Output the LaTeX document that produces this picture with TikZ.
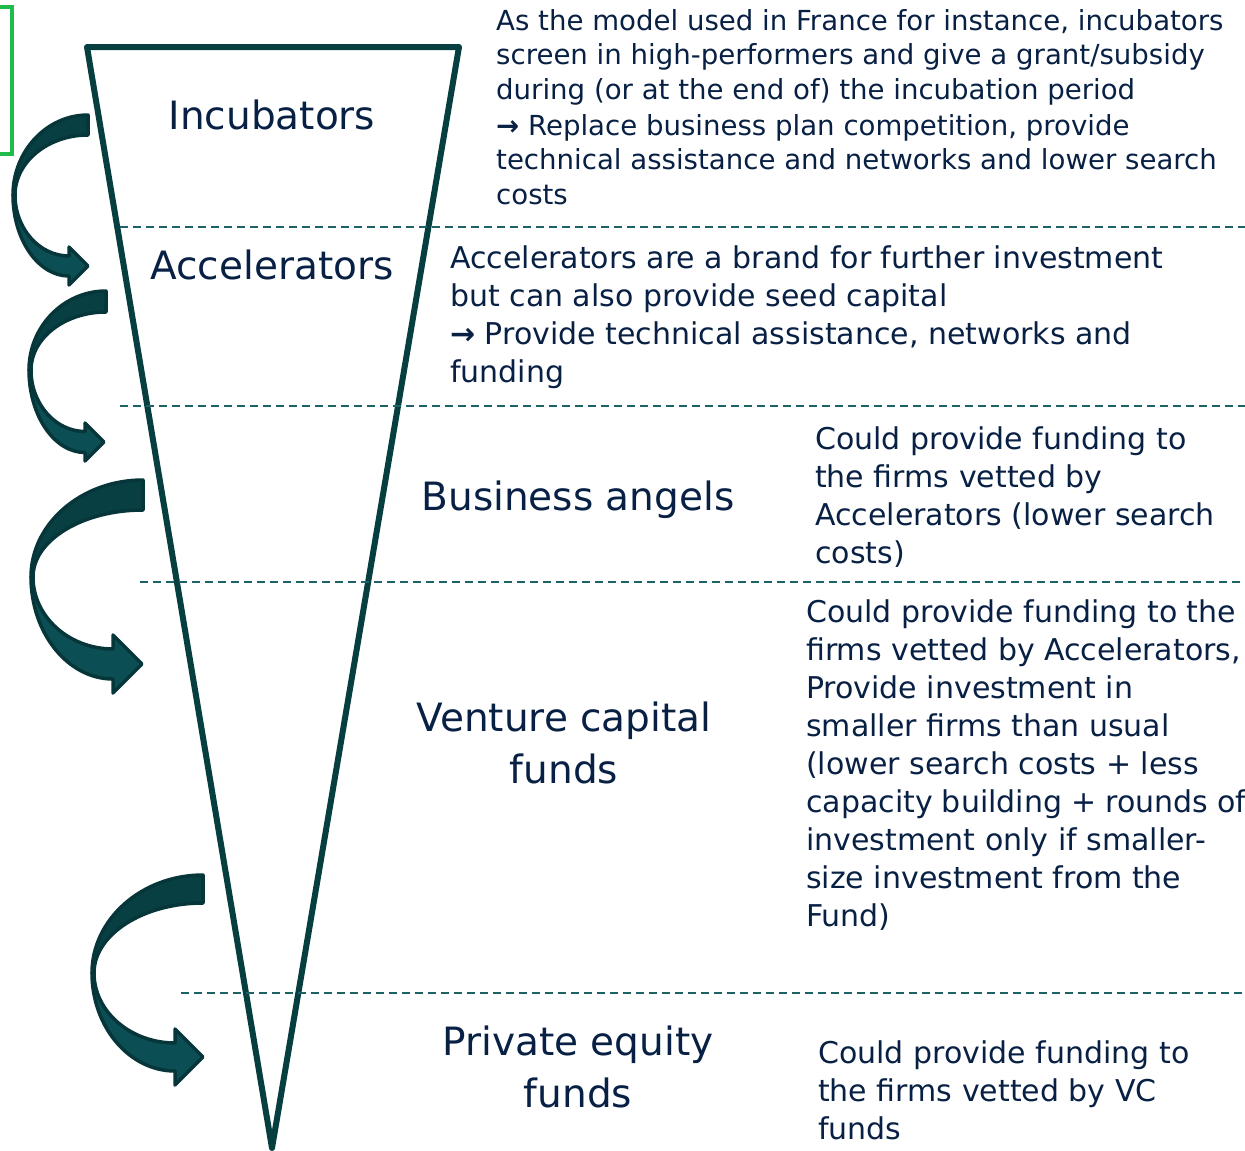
\documentclass[tikz,border=0pt]{standalone}
\usepackage{fontspec}
\setmainfont{DejaVu Sans}
\usetikzlibrary{calc}
\definecolor{figN}{RGB}{8,32,68}
\definecolor{figF}{RGB}{7,62,64}
\definecolor{figTd}{RGB}{8,63,67}
\definecolor{figTl}{RGB}{11,79,84}
\definecolor{figE}{RGB}{6,54,57}
\definecolor{figD}{RGB}{28,98,102}
\definecolor{figG}{RGB}{32,188,72}

% curved block arrow: tail x, tail top, thickness, leftmost x, turn y, neck x, tip y, head half width
\newcommand\bentarrow[8]{%
  \draw[arrowedge,fill=figTl] (#4,#5)
    .. controls (#4,{#5+0.55*(#7+#3/2-#5)}) and ({#6-0.55*(#6-#4)},{#7+#3/2}) .. (#6,{#7+#3/2})
    -- (#6,{#7+#8}) -- ({#6+#8},#7) -- (#6,{#7-#8}) -- (#6,{#7-#3/2})
    .. controls ({#6-0.55*(#6-#4-2)},{#7-#3/2}) and ({#4+2},{#5+0.55*(#7-#3/2-#5)}) .. ({#4+2},#5) -- cycle;
  \draw[arrowedge,fill=figTd] (#1,#2)
    .. controls ({#1-0.55*(#1-#4)},#2) and (#4,{#5-0.55*(#5-#2)}) .. (#4,#5)
    -- ({#4+2},#5)
    .. controls ({#4+2},{#5-0.55*(#5-#2-#3)}) and ({#1-0.55*(#1-#4-2)},{#2+#3}) .. (#1,{#2+#3}) -- cycle;
}

\begin{document}
\begin{tikzpicture}[x=1pt,y=-1pt,
  arrowedge/.style={draw=figE,line width=3.5pt,line join=round},
  sep/.style={figD,line width=2pt,dash pattern=on 8pt off 5pt},
  stage/.style={figN,inner sep=0pt,anchor=base,font=\fontsize{39}{52}\selectfont},
  note/.style={figN,inner sep=0pt,anchor=base west,font=\fontsize{30}{38}\selectfont}]
\useasboundingbox (0,0) rectangle (1245,1151);
% green frame cut by the left edge
\draw[figG,line width=4pt] (-20,7) rectangle (12,154);
% funnel and its bands
\draw[figF,line width=6pt,line join=round] (87,47) -- (459,47) -- (272,1148) -- cycle;
\draw[sep] (120,227) -- (1245,227);
\draw[sep] (120,406) -- (1245,406);
\draw[sep] (140,582) -- (1245,582);
\draw[sep] (181,993) -- (1245,993);
% arrows down the funnel
\bentarrow{88}{115}{20}{13}{195}{69}{266}{19}
\bentarrow{106}{291}{21}{29}{370}{85}{442}{19}
\bentarrow{143}{480}{30}{31}{577}{113}{664}{29}
\bentarrow{203}{875}{28}{92}{973}{175}{1057}{28}
% stage names
\node[stage] (incub) at (272,129) {Incubators};
\node[stage] (accel) at (272,279) {Accelerators};
\node[stage] (angels) at (578,510) {Business angels};
\node[stage] (vc) at (564,731) {\parbox[t]{400pt}{\centering Venture capital\\funds}};
\node[stage] (pe) at (578,1055) {\parbox[t]{400pt}{\centering Private equity\\funds}};
% notes
\node[note,font=\fontsize{27.6}{35}\selectfont] (incubnote) at (496,30) {\parbox[t]{760pt}{\raggedright
As the model used in France for instance, incubators\\
screen in high-performers and give a grant/subsidy\\
during (or at the end of) the incubation period\\
\textbf{→} Replace business plan competition, provide\\
technical assistance and networks and lower search\\
costs}};
\node[note] (accelnote) at (450,268) {\parbox[t]{790pt}{\raggedright
Accelerators are a brand for further investment\\
but can also provide seed capital\\
\textbf{→} Provide technical assistance, networks and\\
funding}};
\node[note] (angelsnote) at (815,449) {\parbox[t]{430pt}{\raggedright
Could provide funding to\\
the firms vetted by\\
Accelerators (lower search\\
costs)}};
\node[note] (vcnote) at (806,622) {\parbox[t]{440pt}{\raggedright
Could provide funding to the\\
firms vetted by Accelerators,\\
Provide investment in\\
smaller firms than usual\\
(lower search costs + less\\
capacity building + rounds of\\
investment only if smaller-\\
size investment from the\\
Fund)}};
\node[note] (penote) at (818,1063) {\parbox[t]{420pt}{\raggedright
Could provide funding to\\
the firms vetted by VC\\
funds}};
\end{tikzpicture}
\end{document}
